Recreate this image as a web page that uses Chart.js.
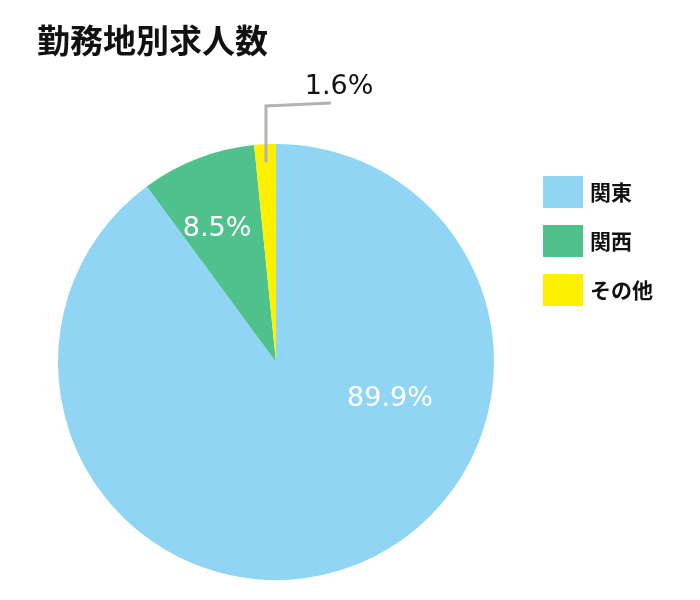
<!DOCTYPE html>
<html>
<head>
<meta charset="utf-8">
<script src="https://cdn.jsdelivr.net/npm/chart.js@4/dist/chart.umd.min.js"></script>
<style>
  html,body{margin:0;padding:0;background:#fff;}
  #wrap{width:700px;height:600px;position:relative;}
</style>
</head>
<body>
<div id="wrap"><canvas id="pieChart" width="700" height="600"></canvas></div>
<script>
// --- Data ---
const chartTitle = '勤務地別求人数';
const regions = ['関東', '関西', 'その他'];
const shares = [89.9, 8.5, 1.6];
const colors = ['#91D5F5', '#4FC18C', '#FFF000'];

const cjkFont = '"Noto Sans CJK JP", "Noto Sans", sans-serif';
const numFont = '"DejaVu Sans", "Noto Sans", sans-serif';

// --- Labels, title, legend drawn on the canvas ---
const decorPlugin = {
  id: 'decor',
  afterDraw(chart){
    const c = chart.ctx;
    const arcs = chart.getDatasetMeta(0).data;
    c.save();

    // title
    c.fillStyle = '#111';
    c.font = 'bold 33px ' + cjkFont;
    c.textAlign = 'left';
    c.textBaseline = 'middle';
    c.fillText(chartTitle, 37, 40);

    // legend
    c.font = 'bold 21px ' + cjkFont;
    regions.forEach((r,i)=>{
      const y = 176 + i*49;
      c.fillStyle = colors[i];
      c.fillRect(543, y, 40, 32);
      c.fillStyle = '#111';
      c.fillText(r, 590, y + 16);
    });

    // value labels
    c.textAlign = 'center';
    c.font = '27px ' + numFont;
    arcs.forEach((arc,i)=>{
      const txt = shares[i].toFixed(1) + '%';
      if(i === 0){
        c.fillStyle = '#fff';
        c.fillText(txt, arc.x + 114, arc.y + 37);
      } else if(i === 1){
        c.fillStyle = '#fff';
        c.fillText(txt, arc.x - 59, arc.y - 133);
      } else {
        // leader line from the small slice
        const mid = (arc.startAngle + arc.endAngle)/2;
        const sx = arc.x + Math.cos(mid)*(arc.outerRadius - 18);
        const sy = arc.y + Math.sin(mid)*(arc.outerRadius - 18);
        c.strokeStyle = '#B3B3B3';
        c.lineWidth = 3;
        c.beginPath();
        c.moveTo(sx, sy);
        c.lineTo(sx, 106);
        c.lineTo(331, 103);
        c.stroke();
        c.fillStyle = '#111';
        c.fillText(txt, 339, 87);
      }
    });
    c.restore();
  }
};

// --- Chart ---
const ctx = document.getElementById('pieChart').getContext('2d');
const chart = new Chart(ctx,{
  type:'pie',
  data:{
    labels: regions,
    datasets:[{data: shares, backgroundColor: colors, borderWidth: 0}]
  },
  options:{
    responsive:false,
    animation:false,
    layout:{padding:{left:58, top:144, right:206, bottom:20}},
    plugins:{
      legend:{display:false},
      title:{display:false},
      tooltip:{enabled:false}
    }
  },
  plugins:[decorPlugin]
});
</script>
</body>
</html>
